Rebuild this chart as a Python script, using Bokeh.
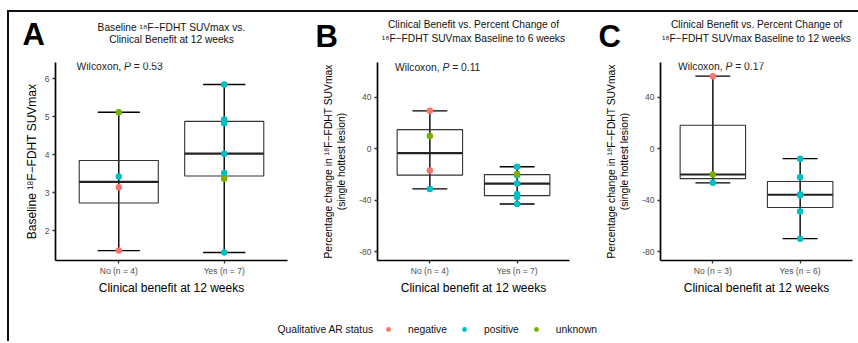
import numpy as np
from bokeh.plotting import figure
from bokeh.layouts import column, row
from bokeh.models import (Range1d, FixedTicker, Label, ColumnDataSource, Legend,
                          LegendItem)
from bokeh.transform import dodge, factor_cmap
from bokeh.embed import file_html
from bokeh.resources import INLINE

FONT = "Liberation Sans"

# ---------------- data ----------------
status_names = ["negative", "positive", "unknown"]
status_colors = ["#F8766D", "#00BFC4", "#7CAE00"]
group_names = ["No", "Yes"]

# Panel A: baseline SUVmax
a_no_values = [5.12, 3.43, 3.15, 1.48]
a_no_status = ["unknown", "positive", "negative", "negative"]
a_yes_values = [5.85, 4.93, 4.83, 4.03, 3.52, 3.37, 1.43]
a_yes_status = ["positive", "positive", "positive", "positive", "positive", "unknown", "positive"]
a_p_value = "0.53"
a_y_ticks = [2, 3, 4, 5, 6]

# Panel B: % change baseline -> 6 weeks
b_no_values = [29.4, 9.9, -17.0, -31.3]
b_no_status = ["negative", "unknown", "negative", "positive"]
b_yes_values = [-14.1, -20.6, -19.8, -27.2, -35.5, -37.6, -43.0]
b_yes_status = ["positive", "positive", "unknown", "positive", "positive", "positive", "positive"]
b_p_value = "0.11"

# Panel C: % change baseline -> 12 weeks
c_no_values = [56.4, -26.6, -20.1]
c_no_status = ["negative", "positive", "unknown"]
c_yes_values = [-7.8, -22.2, -35.5, -36.2, -48.9, -70.0]
c_yes_status = ["positive", "positive", "positive", "positive", "positive", "positive"]
c_p_value = "0.17"

pct_y_ticks = [-80, -40, 0, 40]

HEAD_H = 60    # header strip height
PH = 250       # panel figure height
BOTTOM = 50


def box_stats(vals):
    v = np.asarray(vals, float)
    q1, med, q3 = np.percentile(v, [25, 50, 75])
    iqr = q3 - q1
    lo = v[v >= q1 - 1.5 * iqr].min()
    hi = v[v <= q3 + 1.5 * iqr].max()
    return q1, med, q3, lo, hi


def make_panel(ylabel, ylabel_size, ylabel_standoff, yr, yticks, vals, stats_, p_value, p_y,
               width, left, right, top):
    p = figure(width=width, height=PH, x_range=Range1d(0.4, 2.6), y_range=Range1d(*yr),
               output_backend="svg", toolbar_location=None,
               min_border_left=left, min_border_right=right,
               min_border_top=top, min_border_bottom=BOTTOM)
    p.grid.visible = False
    p.outline_line_color = None
    p.background_fill_alpha = 0
    p.border_fill_alpha = 0

    xs = [1, 2]
    st = [box_stats(v) for v in vals]
    src = ColumnDataSource(dict(x=xs,
                                q1=[s[0] for s in st], med=[s[1] for s in st],
                                q3=[s[2] for s in st], lo=[s[3] for s in st],
                                hi=[s[4] for s in st]))
    # whiskers
    p.segment(x0="x", y0="lo", x1="x", y1="hi", source=src, line_color="black", line_width=1.4)
    # caps
    p.segment(x0=dodge("x", -0.2), y0="hi", x1=dodge("x", 0.2), y1="hi", source=src,
              line_color="black", line_width=1.4)
    p.segment(x0=dodge("x", -0.2), y0="lo", x1=dodge("x", 0.2), y1="lo", source=src,
              line_color="black", line_width=1.4)
    # box
    p.vbar(x="x", bottom="q1", top="q3", width=0.75, source=src, fill_alpha=0,
           line_color="#333333", line_width=1.1)
    # median
    p.segment(x0=dodge("x", -0.375), y0="med", x1=dodge("x", 0.375), y1="med", source=src,
              line_color="#222222", line_width=2.2)

    # points (unknown drawn last)
    px, py, ps = [], [], []
    for gi, (v, s) in enumerate(zip(vals, stats_)):
        for vv, ss in zip(v, s):
            px.append(xs[gi]); py.append(vv); ps.append(ss)
    order = sorted(range(len(px)), key=lambda i: ps[i] == "unknown")
    psrc = ColumnDataSource(dict(x=[px[i] for i in order], y=[py[i] for i in order],
                                 status=[ps[i] for i in order]))
    p.scatter(x="x", y="y", source=psrc, size=6.5, line_color=None,
              fill_color=factor_cmap("status", palette=status_colors, factors=status_names))

    # axes
    p.xaxis.ticker = FixedTicker(ticks=xs)
    p.xaxis.major_label_overrides = {xs[i]: f"{group_names[i]} (n = {len(vals[i])})" for i in range(2)}
    p.yaxis.ticker = FixedTicker(ticks=yticks)
    p.yaxis.major_label_overrides = {t: str(t) for t in yticks}
    for ax in p.axis:
        ax.axis_line_width = 1.7
        ax.axis_line_color = "black"
        ax.major_tick_line_width = 1.3
        ax.major_tick_line_color = "#333333"
        ax.major_tick_out = 3
        ax.major_tick_in = 0
        ax.minor_tick_line_color = None
        ax.major_label_text_font = FONT
        ax.major_label_text_font_size = "8.5px"
        ax.major_label_text_color = "#4D4D4D"
        ax.major_label_standoff = 3
        ax.axis_label_text_font = FONT
        ax.axis_label_text_font_style = "normal"
        ax.axis_label_text_color = "black"
    p.xaxis.major_label_standoff = 2
    p.xaxis.axis_label = "Clinical benefit at 12 weeks"
    p.xaxis.axis_label_text_font_size = "12px"
    p.xaxis.axis_label_standoff = 2
    p.yaxis.axis_label = ylabel
    p.yaxis.axis_label_text_font_size = ylabel_size
    p.yaxis.axis_label_standoff = ylabel_standoff

    # Wilcoxon label: "Wilcoxon, P = x"
    fs = 10.3
    w1 = 4.612 * fs
    wP = 0.667 * fs
    sp = 0.278 * fs
    common = dict(x=0.6, y=p_y, text_font=FONT, text_font_size=f"{fs}px",
                  text_baseline="middle", text_color="#222222")
    p.add_layout(Label(text="Wilcoxon,", **common))
    p.add_layout(Label(text="P", x_offset=w1, text_font_style="italic", **common))
    p.add_layout(Label(text=f"= {p_value}", x_offset=w1 + wP + sp, **common))
    return p


pA = make_panel("Baseline ¹⁸F−FDHT SUVmax", "12px", 3, (1.22, 6.43), a_y_ticks,
                [a_no_values, a_yes_values], [a_no_status, a_yes_status], a_p_value, 6.33,
                290, 55, 3, 0)
pB = make_panel("Percentage change in ¹⁸F−FDHT SUVmax\n(single hottest lesion)", "10.3px", 9,
                (-87, 67), pct_y_ticks,
                [b_no_values, b_yes_values], [b_no_status, b_yes_status], b_p_value, 63.4,
                285, 87, 6, 2)
pC = make_panel("Percentage change in ¹⁸F−FDHT SUVmax\n(single hottest lesion)", "10.3px", 9,
                (-87, 67), pct_y_ticks,
                [c_no_values, c_yes_values], [c_no_status, c_yes_status], c_p_value, 63.6,
                283, 85, 6, 2)

# ---------------- header strip: panel letters and titles ----------------
hd = figure(width=858, height=HEAD_H, output_backend="svg", toolbar_location=None,
            x_axis_location=None, y_axis_location=None, x_range=Range1d(0, 1),
            y_range=Range1d(0, 1), min_border_left=0, min_border_right=0,
            min_border_top=0, min_border_bottom=0)
hd.outline_line_color = None
hd.grid.visible = False
hd.background_fill_alpha = 0
hd.border_fill_alpha = 0

panel_letters = ["A", "B", "C"]
panel_titles = [
    ["Baseline ¹⁸F−FDHT SUVmax vs.", "Clinical Benefit at 12 weeks"],
    ["Clinical Benefit vs. Percent Change of", "¹⁸F−FDHT SUVmax Baseline to 6 weeks"],
    ["Clinical Benefit vs. Percent Change of", "¹⁸F−FDHT SUVmax Baseline to 12 weeks"],
]
letter_x = [22, 315, 598]
letter_cy = [33.5, 35.5, 35.5]          # visual centre (px from top)
title_cx = [171, 473, 756]
title1_cy = [27, 24, 24]
title2_cy = [38.5, 38, 38]
for i in range(3):
    hd.add_layout(Label(x=letter_x[i], y=HEAD_H - letter_cy[i], x_units="screen",
                        y_units="screen", text=panel_letters[i], text_font=FONT,
                        text_font_size="31px", text_font_style="bold", text_color="black",
                        text_baseline="middle"))
    for txt, cy in zip(panel_titles[i], [title1_cy[i], title2_cy[i]]):
        hd.add_layout(Label(x=title_cx[i], y=HEAD_H - cy, x_units="screen", y_units="screen",
                            text=txt, text_font=FONT, text_font_size="10.2px",
                            text_align="center", text_baseline="middle",
                            text_color="#111111"))

# ---------------- legend strip ----------------
LEG_H = 31
lg = figure(width=858, height=LEG_H, output_backend="svg", toolbar_location=None,
            x_axis_location=None, y_axis_location=None, x_range=Range1d(0, 1),
            y_range=Range1d(0, 1), min_border_left=0, min_border_right=0,
            min_border_top=0, min_border_bottom=0)
lg.outline_line_color = None
lg.grid.visible = False
lg.background_fill_alpha = 0
lg.border_fill_alpha = 0
items = []
for name, col in zip(status_names, status_colors):
    r = lg.scatter(x=[np.nan], y=[np.nan], size=6, fill_color=col, line_color=None)
    items.append(LegendItem(label=name, renderers=[r]))
leg = Legend(items=items, orientation="horizontal", location=(381, 6),
             glyph_width=14, glyph_height=12, label_height=12, label_standoff=13,
             spacing=10, padding=0, margin=0, border_line_color=None,
             background_fill_alpha=0, label_text_font=FONT, label_text_font_size="10.3px",
             label_text_baseline="middle", label_text_color="#111111")
lg.add_layout(leg)
lg.add_layout(Label(x=277, y=12, x_units="screen", y_units="screen",
                    text="Qualitative AR status", text_font=FONT, text_font_size="10.3px",
                    text_baseline="middle", text_color="#111111"))

frame_lines = ("linear-gradient(#111,#111) 7px 10px / calc(100% - 7px) 2px no-repeat, "
               "linear-gradient(#111,#111) 7px 10px / 2px calc(100% - 10px) no-repeat, white")
layout = column(hd, row(pA, pB, pC), lg, styles={"background": frame_lines})

open("out.html", "w").write(file_html(layout, INLINE))
